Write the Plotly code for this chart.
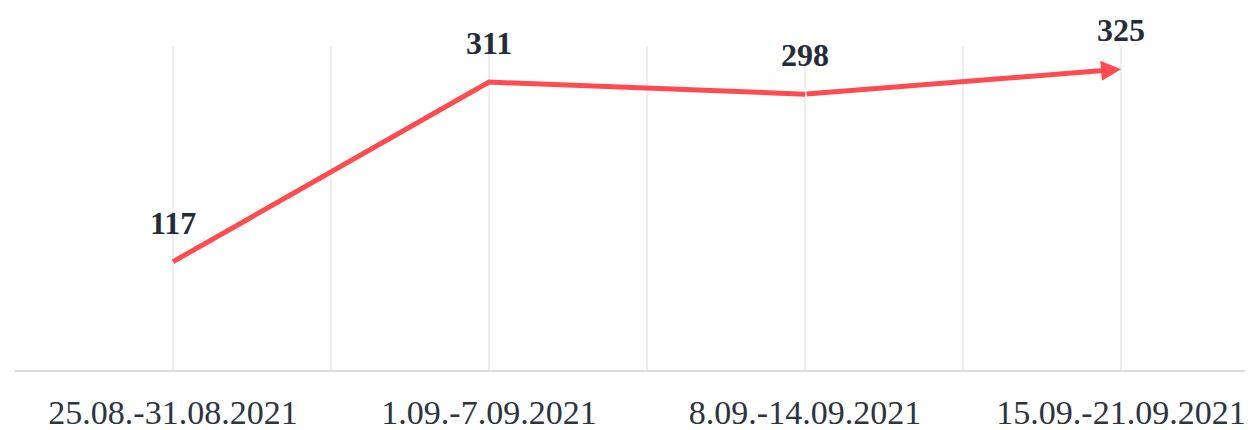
import plotly.graph_objects as go

categories = ["25.08.-31.08.2021", "1.09.-7.09.2021", "8.09.-14.09.2021", "15.09.-21.09.2021"]
values = [117, 311, 298, 325]

xs = list(range(len(categories)))
line_color = "#ff4a4f"
text_color = "#252c38"

fig = go.Figure()
fig.add_trace(go.Scatter(
    x=xs[:-1], y=values[:-1], mode="lines",
    line=dict(color=line_color, width=5), hoverinfo="skip", showlegend=False,
))

# arrow for last segment
fig.add_annotation(
    x=xs[-1], y=values[-1], ax=xs[-2], ay=values[-2],
    xref="x", yref="y", axref="x", ayref="y",
    showarrow=True, arrowhead=2, arrowsize=0.8, arrowwidth=5,
    arrowcolor=line_color, standoff=0, startstandoff=0, text="",
)

for x, v in zip(xs, values):
    fig.add_annotation(
        x=x, y=v, text=f"<b>{v}</b>", showarrow=False, yshift=39,
        font=dict(family="Liberation Serif", size=32, color=text_color),
    )

fig.update_layout(
    width=1253, height=430,
    margin=dict(l=7, r=0, t=38, b=68),
    paper_bgcolor="white", plot_bgcolor="white",
    showlegend=False,
    xaxis=dict(
        range=[-0.5, 3.443],
        tickmode="array", tickvals=xs, ticktext=categories,
        showgrid=True, gridcolor="#eeeeee", gridwidth=2,
        minor=dict(tickmode="array", tickvals=[-0.5, 0.5, 1.5, 2.5, 3.5],
                   showgrid=True, gridcolor="#eeeeee", gridwidth=2),
        showline=True, linecolor="#dcdcdc", linewidth=2,
        ticks="", zeroline=False, ticklabelstandoff=11,
        tickfont=dict(family="Liberation Serif", size=34, color="#2d3440"),
    ),
    yaxis=dict(
        range=[0, 350], showgrid=False, zeroline=False,
        showticklabels=False, ticks="", showline=False,
    ),
)

fig.write_html("out.html")
